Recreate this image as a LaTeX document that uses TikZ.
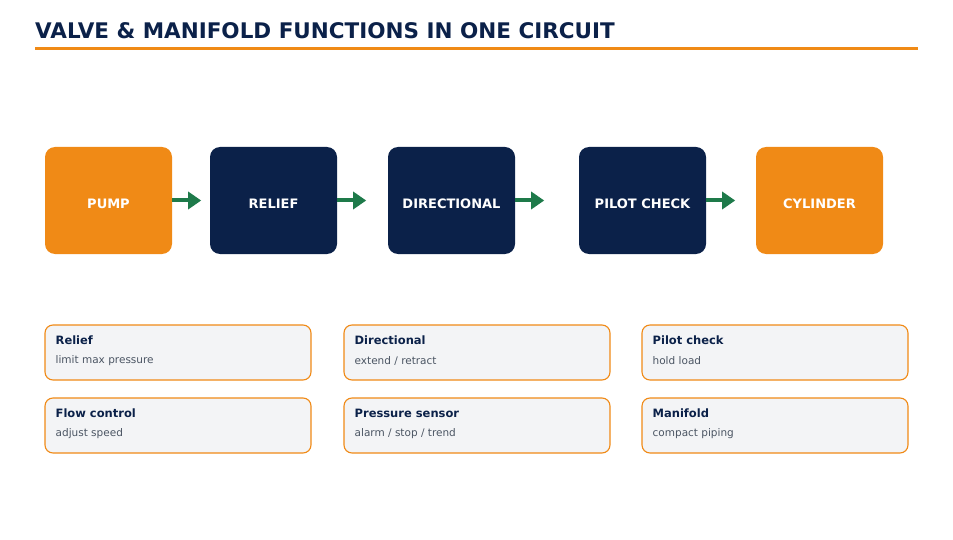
\documentclass[tikz,border=0pt]{standalone}
\usepackage{fontspec}
\setmainfont{DejaVu Sans}
\usetikzlibrary{arrows.meta,positioning,calc}
\definecolor{navy}{HTML}{0B2149}
\definecolor{amber}{HTML}{F08A16}
\definecolor{flow}{HTML}{1E7A4A}
\definecolor{muted}{HTML}{4B5563}
\definecolor{cardbg}{HTML}{F3F4F6}
\tikzset{
  stage/.style={rounded corners=10pt,minimum width=127pt,minimum height=107pt,
                inner sep=0pt,text=white,text height=16pt,text depth=0pt,
                font=\fontsize{13}{15}\selectfont\bfseries},
  pumpbox/.style={stage,fill=amber},
  valvebox/.style={stage,fill=navy},
  card/.style={draw=amber,fill=cardbg,rounded corners=8pt,line width=1.1pt,
               minimum width=266pt,minimum height=55pt,inner sep=0pt},
  cardhead/.style={anchor=west,inner sep=0pt,text=navy,
                   font=\fontsize{11.5}{13}\selectfont\bfseries},
  cardtext/.style={anchor=west,inner sep=0pt,text=muted,
                   font=\fontsize{10.5}{12}\selectfont},
  arrowflow/.style={-{Triangle[length=13pt,width=17pt]},line width=4pt,flow},
}

\begin{document}
\begin{tikzpicture}[x=1pt,y=-1pt]
  \useasboundingbox (0,0) rectangle (953,540);
  % heading
  \node[anchor=west,inner sep=0pt,text=navy,font=\fontsize{21.5}{24}\selectfont\bfseries]
    (title) at (35,31) {VALVE \& MANIFOLD FUNCTIONS IN ONE CIRCUIT};
  \draw[amber,line width=3pt] (35,49) -- (918,49);
  % circuit stages
  \foreach \n/\x/\sty/\lbl in {
    pump/108.5/pumpbox/{PUMP},
    relief/273.5/valvebox/{RELIEF},
    dir/451.5/valvebox/{DIRECTIONAL},
    pilot/642.5/valvebox/{PILOT CHECK},
    cyl/819.5/pumpbox/{CYLINDER}
  }{
    \node[\sty] (\n) at (\x,200.5) {\lbl};
  }
  \foreach \a in {pump,relief,dir,pilot}{
    \coordinate (\a-tip) at ($(\a.east)+(29,0)$);
    \draw[arrowflow] (\a.east) -- (\a-tip);
  }
  % function cards
  \foreach \n/\x/\y/\hd/\txt in {
    c1/178/352.5/{Relief}/{limit max pressure},
    c2/477/352.5/{Directional}/{extend / retract},
    c3/775/352.5/{Pilot check}/{hold load},
    c4/178/425.5/{Flow control}/{adjust speed},
    c5/477/425.5/{Pressure sensor}/{alarm / stop / trend},
    c6/775/425.5/{Manifold}/{compact piping}
  }{
    \node[card] (\n) at (\x,\y) {};
    \node[cardhead] (\n-hd) at ($(\n.west)+(11,-12.5)$) {\hd};
    \node[cardtext] (\n-tx) at ($(\n.west)+(11,8)$) {\txt};
  }
\end{tikzpicture}
\end{document}
